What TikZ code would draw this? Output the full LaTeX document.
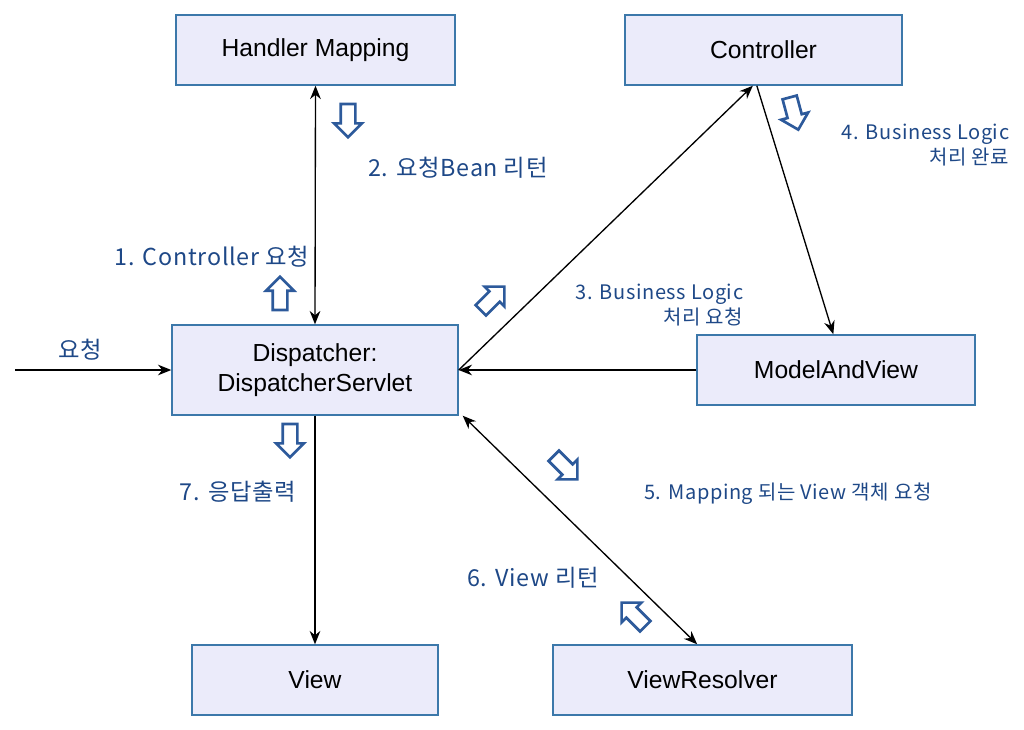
\documentclass[tikz,border=0pt]{standalone}
\usepackage{fontspec}
\setmainfont{Liberation Sans}
\newfontfamily\kr[LetterSpace=3]{Noto Sans CJK KR}
\usetikzlibrary{arrows.meta,shapes.arrows}
\definecolor{boxfill}{RGB}{235,235,250}
\definecolor{boxline}{RGB}{60,120,170}
\definecolor{labelblue}{RGB}{30,72,135}
\definecolor{hollowblue}{RGB}{45,90,155}

\tikzset{
  box/.style={draw=boxline, line width=1.1pt, fill=boxfill, minimum height=52.5pt,
    align=center, font=\fontsize{18.5}{23}\selectfont},
  link/.style={line width=1pt, -{Stealth[length=10pt,width=8pt]}},
  biglabel/.style={text=labelblue, font=\kr\fontsize{17.5}{20}\selectfont},
  smalllabel/.style={text=labelblue, font=\kr\fontsize{15}{19}\selectfont, align=right},
  hollow/.style={single arrow, draw=hollowblue, fill=white, line width=2pt,
    minimum height=25pt, minimum width=0pt, single arrow head extend=5pt, inner sep=4.5pt}
}

\begin{document}
\begin{tikzpicture}[x=0.75pt, y=-0.75pt]
\useasboundingbox (0,0) rectangle (1024,729);

% Boxes
\node[box, minimum width=209pt] (hm) at (315.5,50) {Handler Mapping};
\node[box, minimum width=208pt] (ctrl) at (763.5,50) {Controller};
\node[box, minimum width=214.5pt, minimum height=67.5pt] (disp) at (315,370) {Dispatcher:\\DispatcherServlet};
\node[box, minimum width=208.5pt] (mav) at (836,370) {ModelAndView};
\node[box, minimum width=184.5pt] (view) at (315,680) {View};
\node[box, minimum width=224pt] (vr) at (702.5,680) {ViewResolver};

% Connectors
\coordinate (req) at (15,370);
\draw[link] (req) -- (disp.west);
\draw[link, {Stealth[length=10pt,width=8pt]}-{Stealth[length=10pt,width=8pt]}] (hm.south) -- (disp.north);
\draw[link] (disp.east) -- ([xshift=-8pt]ctrl.south);
\draw[link] ([xshift=-5pt]ctrl.south) -- ([xshift=-2pt]mav.north);
\draw[link] (mav.west) -- (disp.east);
\draw[link, {Stealth[length=10pt,width=8pt]}-{Stealth[length=10pt,width=8pt]}] ([xshift=3pt]disp.south east) -- ([xshift=-4pt]vr.north);
\draw[link] (disp.south) -- (view.north);

% Hollow arrows
\node[hollow, rotate=90] (h1) at (280,297) {};
\node[hollow, rotate=-90] (h2) at (348,117) {};
\node[hollow, rotate=45] (h3) at (490,301) {};
\node[hollow, rotate=-75] (h4) at (793,110) {};
\node[hollow, rotate=-45] (h5) at (563,465) {};
\node[hollow, rotate=135] (h6) at (636,617) {};
\node[hollow, rotate=-90] (h7) at (290,437) {};

% Labels
\node[biglabel] (lreq) at (80,350) {요청};
\node[biglabel] (l1) at (212,257) {1. Controller 요청};
\node[biglabel] (l2) at (458,168) {2. 요청Bean 리턴};
\node[smalllabel, anchor=north east] (l3) at (748,279) {3. Business Logic\\처리 요청};
\node[smalllabel, anchor=north east] (l4) at (1014,119) {4. Business Logic\\처리 완료};
\node[smalllabel] (l5) at (788,494) {5. Mapping 되는 View 객체 요청};
\node[biglabel] (l6) at (533,578) {6. View 리턴};
\node[biglabel] (l7) at (238,492) {7. 응답출력};
\end{tikzpicture}
\end{document}
